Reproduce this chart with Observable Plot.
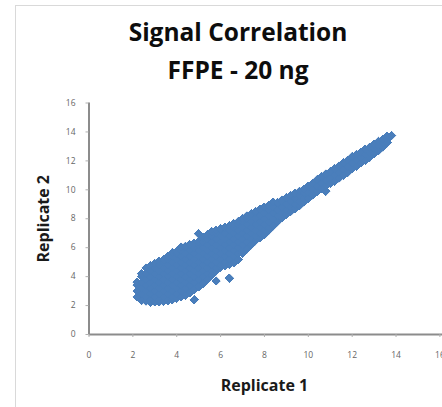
<!DOCTYPE html>
<html><head><meta charset="utf-8">
<script src="https://cdn.jsdelivr.net/npm/d3@7"></script>
<script src="https://cdn.jsdelivr.net/npm/@observablehq/plot@0.6"></script>
<style>
html,body{margin:0;padding:0;background:#fff;}
#wrap{position:relative;width:442px;height:407px;overflow:hidden;background:#fff;}
#frame{position:absolute;left:15px;top:5px;width:500px;height:500px;border:1px solid #d9d9d9;box-sizing:border-box;}
#title{position:relative;margin-left:15px;width:446px;height:92px;padding-top:13.4px;box-sizing:border-box;text-align:center;font-family:"Open Sans";font-weight:700;font-size:24.5px;line-height:37.6px;color:#0d0d0d;}
#chart{position:relative;}
#chart svg g[aria-label="x-axis label"] text,
#chart svg g[aria-label="y-axis label"] text{font-family:"Open Sans";font-weight:700;font-size:16px;fill:#1a1a1a;}
</style>
</head><body>
<div id="wrap">
  <div id="frame"></div>
  <div id="title"><div id="t1"></div><div id="t2"></div></div>
  <div id="chart"></div>
</div>
<script>
const chartTitle = "Signal Correlation";
const chartSubtitle = "FFPE - 20 ng";
const xLabel = "Replicate 1";
const yLabel = "Replicate 2";
const xTicks = [0, 2, 4, 6, 8, 10, 12, 14, 16];
const yTicks = [0, 2, 4, 6, 8, 10, 12, 14, 16];

// Replicate 1 values (columns of the point cloud)
const replicate1 = [2.2,2.4,2.6,2.8,3.0,3.2,3.4,3.6,3.8,4.0,4.2,4.4,4.6,4.8,5.0,5.2,5.4,5.6,5.8,6.0,
  6.2,6.4,6.6,6.8,7.0,7.2,7.4,7.6,7.8,8.0,8.2,8.4,8.6,8.8,9.0,9.2,9.4,9.6,9.8,10.0,
  10.2,10.4,10.6,10.8,11.0,11.2,11.4,11.6,11.8,12.0,12.2,12.4,12.6,12.8,13.0,13.2,13.4,13.6,13.8];

// Replicate 2 values read for each Replicate 1 column
const replicate2 = [
  [2.6, 3.0, 3.4, 3.6],
  [2.35, 2.8, 3.2, 3.6, 4.0, 4.2],
  [2.3, 2.6, 3.0, 3.4, 3.8, 4.2, 4.6],
  [2.25, 2.4, 2.8, 3.2, 3.6, 4.0, 4.4, 4.75],
  [2.25, 2.6, 3.0, 3.4, 3.8, 4.2, 4.6, 4.9],
  [2.25, 2.4, 2.8, 3.2, 3.6, 4.0, 4.4, 4.8, 5.05],
  [2.3, 2.6, 3.0, 3.4, 3.8, 4.2, 4.6, 5.0, 5.15],
  [2.35, 2.8, 3.2, 3.6, 4.0, 4.4, 4.8, 5.2, 5.4],
  [2.4, 2.6, 3.0, 3.4, 3.8, 4.2, 4.6, 5.0, 5.4, 5.65],
  [2.5, 2.8, 3.2, 3.6, 4.0, 4.4, 4.8, 5.2, 5.6, 5.75],
  [2.6, 3.0, 3.4, 3.8, 4.2, 4.6, 5.0, 5.4, 5.8, 6.05],
  [2.7, 3.2, 3.6, 4.0, 4.4, 4.8, 5.2, 5.6, 6.0, 6.1],
  [2.9, 3.4, 3.8, 4.2, 4.6, 5.0, 5.4, 5.8, 6.2],
  [2.4, 3.1, 3.6, 4.0, 4.4, 4.8, 5.2, 5.6, 6.0, 6.3],
  [3.3, 3.8, 4.2, 4.6, 5.0, 5.4, 5.8, 6.2, 6.4, 6.95],
  [3.5, 4.0, 4.4, 4.8, 5.2, 5.6, 6.0, 6.4, 6.7],
  [3.8, 4.2, 4.6, 5.0, 5.4, 5.8, 6.2, 6.6, 6.9],
  [4.1, 4.4, 4.8, 5.2, 5.6, 6.0, 6.4, 6.8, 7.1],
  [3.7, 4.4, 4.6, 5.0, 5.4, 5.8, 6.2, 6.6, 7.0, 7.2],
  [4.65, 4.8, 5.2, 5.6, 6.0, 6.4, 6.8, 7.2, 7.3],
  [4.75, 5.0, 5.4, 5.8, 6.2, 6.6, 7.0, 7.4],
  [3.9, 4.85, 5.2, 5.6, 6.0, 6.4, 6.8, 7.2, 7.5],
  [4.95, 5.4, 5.8, 6.2, 6.6, 7.0, 7.4, 7.65],
  [5.2, 5.6, 6.0, 6.4, 6.8, 7.2, 7.6, 7.8],
  [5.6, 5.8, 6.2, 6.6, 7.0, 7.4, 7.8, 8.0],
  [5.9, 6.4, 6.8, 7.2, 7.6, 8.0, 8.2],
  [6.2, 6.6, 7.0, 7.4, 7.8, 8.2, 8.35],
  [6.5, 6.8, 7.2, 7.6, 8.0, 8.4, 8.5],
  [6.7, 7.0, 7.4, 7.8, 8.2, 8.65],
  [6.9, 7.2, 7.6, 8.0, 8.4, 8.8],
  [7.2, 7.4, 7.8, 8.2, 8.6, 8.9],
  [7.5, 8.0, 8.4, 8.8, 9.15],
  [7.8, 8.2, 8.6, 9.1],
  [8.05, 8.4, 8.8, 9.2, 9.3],
  [8.3, 8.6, 9.0, 9.45],
  [8.5, 8.8, 9.2, 9.6],
  [8.7, 9.0, 9.4, 9.75],
  [8.9, 9.2, 9.6, 9.9],
  [9.15, 9.4, 9.8, 10.05],
  [9.4, 9.8, 10.25],
  [9.65, 10.0, 10.45],
  [9.9, 10.25, 10.7],
  [10.1, 10.45, 10.9],
  [9.9, 10.3, 10.65, 11.1],
  [10.45, 10.8, 11.25],
  [10.6, 11.0, 11.45],
  [10.8, 11.2, 11.65],
  [11.0, 11.4, 11.85],
  [11.2, 11.6, 12.05],
  [11.45, 11.85, 12.3],
  [11.65, 12.05, 12.45],
  [11.85, 12.25, 12.6],
  [12.05, 12.45, 12.8],
  [12.25, 12.6, 12.95],
  [12.5, 12.85, 13.15],
  [12.7, 13.05, 13.35],
  [12.95, 13.25, 13.5],
  [13.25, 13.5, 13.7],
  [13.75]
];

document.getElementById("t1").textContent = chartTitle;
document.getElementById("t2").textContent = chartSubtitle;

const points = replicate1.flatMap((r1, i) => replicate2[i].map(r2 => ({r1, r2})));
const markerColor = "#4a7ebb";
const dotOptions = {x: "r1", y: "r2", symbol: "diamond2", r: 3.6, fill: markerColor, stroke: markerColor, strokeWidth: 1};

const chart = Plot.plot({
  width: 442,
  height: 315,
  marginLeft: 88.5,
  marginRight: 2.6,
  marginTop: 10.5,
  marginBottom: 73,
  style: {fontFamily: "Open Sans", background: "transparent", overflow: "visible"},
  x: {domain: [0, 16]},
  y: {domain: [0, 16]},
  marks: [
    // solid underlay (no anti-aliasing seams between overlapping markers)
    Plot.dot(points, {...dotOptions, shapeRendering: "crispEdges"}),
    // smooth markers on top
    Plot.dot(points, dotOptions),
    Plot.ruleY([0], {stroke: "#8c8c8c", strokeWidth: 2, insetRight: -4}),
    Plot.ruleX([0], {stroke: "#8c8c8c", strokeWidth: 2}),
    Plot.axisX({ticks: xTicks, tickSize: 3, tickPadding: 14.5, fontSize: 8.5, stroke: "#b0b0b0", fill: "#666",
      label: xLabel, labelAnchor: "center", labelOffset: 56, labelArrow: "none"}),
    Plot.axisY({ticks: yTicks, tickSize: 3, tickPadding: 10.5, fontSize: 8.5, stroke: "#b0b0b0", fill: "#666",
      label: yLabel, labelAnchor: "center", labelOffset: 51.5, labelArrow: "none"})
  ]
});
document.getElementById("chart").appendChild(chart);
</script>
</body></html>
